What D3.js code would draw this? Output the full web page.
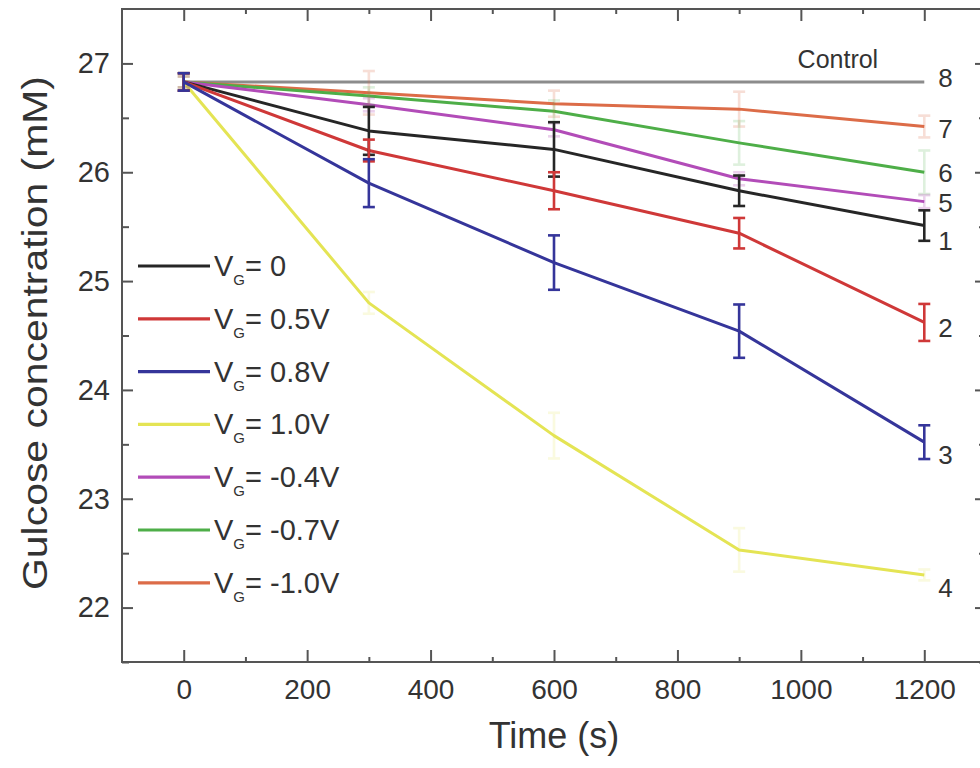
<!DOCTYPE html>
<html>
<head>
<meta charset="utf-8">
<script src="https://cdn.jsdelivr.net/npm/d3@7/dist/d3.min.js"></script>
<style>
  html, body { margin: 0; padding: 0; background: #fff; }
  svg { display: block; }
  text { font-family: "Liberation Sans", Arial, sans-serif; fill: #333; }
</style>
</head>
<body>
<svg id="chart" width="980" height="768"></svg>
<script>
// Sampling times (s)
const times = [0, 300, 600, 900, 1200];

// Glucose concentration (mM) for each gate voltage, with error bars
const vg0      = [26.83, 26.38, 26.21, 25.83, 25.51];
const vg0Err   = [0.08, 0.22, 0.25, 0.14, 0.14];
const vg05     = [26.83, 26.20, 25.83, 25.44, 24.62];
const vg05Err  = [0.08, 0.10, 0.17, 0.14, 0.17];
const vg08     = [26.83, 25.90, 25.17, 24.54, 23.52];
const vg08Err  = [0.08, 0.22, 0.25, 0.245, 0.155];
const vg10     = [26.83, 24.80, 23.58, 22.53, 22.30];
const vg10Err  = [0.05, 0.10, 0.21, 0.20, 0.05];
const vgm04    = [26.83, 26.62, 26.39, 25.94, 25.73];
const vgm04Err = [0.05, 0.06, 0.06, 0.06, 0.06];
const vgm07    = [26.83, 26.70, 26.56, 26.27, 26.00];
const vgm07Err = [0.05, 0.08, 0.10, 0.20, 0.20];
const vgm10    = [26.83, 26.73, 26.63, 26.58, 26.42];
const vgm10Err = [0.05, 0.20, 0.12, 0.16, 0.10];
const control  = [26.83, 26.83, 26.83, 26.83, 26.83];

// Legend texts (gate voltage values) and curve numbers
const legendValues = ["0", "0.5V", "0.8V", "1.0V", "-0.4V", "-0.7V", "-1.0V"];
const curveNumbers = ["1", "2", "3", "4", "5", "6", "7"];
const controlNumber = "8";
const controlLabel = "Control";

// Axis ticks
const xTicks = [0, 200, 400, 600, 800, 1000, 1200];
const yTicks = [22, 23, 24, 25, 26, 27];
const xLabel = "Time (s)";
const yLabel = "Gulcose concentration (mM)";

// Series table (order = legend order)
const seriesValues = [vg0, vg05, vg08, vg10, vgm04, vgm07, vgm10];
const seriesErrors = [vg0Err, vg05Err, vg08Err, vg10Err, vgm04Err, vgm07Err, vgm10Err];

// Styling
const colors = ["#262626", "#cf3838", "#35359a", "#e4e454", "#b24cb8", "#4eae48", "#dc6c48"];
const errOpacity = [1, 1, 1, 0.18, 0.25, 0.18, 0.22];
const controlColor = "#8c8c8c";
const labelDy = [15, 5, 12, 13, 1, 0, 2];   // nudges for the end-of-curve numbers
const drawOrder = [6, 5, 4, 3, 0, 1, 2];

const svg = d3.select("#chart");
const M = { left: 122, right: 986, top: 9, bottom: 662 };

const x = d3.scaleLinear().domain([-100, 1300]).range([M.left, M.right]);
const y = d3.scaleLinear().domain([21.5, 27.5]).range([M.bottom, M.top]);

const axisColor = "#555";

// Frame
svg.append("rect")
  .attr("x", M.left).attr("y", M.top)
  .attr("width", M.right - M.left).attr("height", M.bottom - M.top)
  .attr("fill", "none").attr("stroke", axisColor).attr("stroke-width", 2);

function styleAxis(g) {
  g.select(".domain").remove();
  g.selectAll(".tick line").attr("stroke", axisColor).attr("stroke-width", 2);
  g.selectAll(".tick text")
    .style("font-family", '"Liberation Sans", Arial, sans-serif')
    .attr("fill", "#333");
}

// Bottom axis (major + minor), ticks pointing inward
svg.append("g").attr("transform", `translate(0,${M.bottom})`)
  .call(d3.axisBottom(x).tickValues(xTicks).tickSize(-12).tickPadding(17).tickFormat(d3.format("d")))
  .call(styleAxis)
  .call(g => g.selectAll(".tick text").style("font-size", "28px"));
svg.append("g").attr("transform", `translate(0,${M.bottom})`)
  .call(d3.axisBottom(x).tickValues(d3.range(100, 1300, 200)).tickSize(-5).tickFormat(""))
  .call(styleAxis);

// Top axis mirrored ticks
svg.append("g").attr("transform", `translate(0,${M.top})`)
  .call(d3.axisTop(x).tickValues(xTicks).tickSize(-12).tickFormat(""))
  .call(styleAxis);
svg.append("g").attr("transform", `translate(0,${M.top})`)
  .call(d3.axisTop(x).tickValues(d3.range(100, 1300, 200)).tickSize(-5).tickFormat(""))
  .call(styleAxis);

// Left axis
svg.append("g").attr("transform", `translate(${M.left},0)`)
  .call(d3.axisLeft(y).tickValues(yTicks).tickSize(-11).tickPadding(12).tickFormat(d3.format("d")))
  .call(styleAxis)
  .call(g => g.selectAll(".tick text").style("font-size", "29px"));
svg.append("g").attr("transform", `translate(${M.left},0)`)
  .call(d3.axisLeft(y).tickValues(d3.range(21.5, 27.5, 1)).tickSize(-7).tickFormat(""))
  .call(styleAxis);

// Right axis mirrored ticks
svg.append("g").attr("transform", `translate(${M.right},0)`)
  .call(d3.axisRight(y).tickValues(yTicks).tickSize(-11).tickFormat(""))
  .call(styleAxis);
svg.append("g").attr("transform", `translate(${M.right},0)`)
  .call(d3.axisRight(y).tickValues(d3.range(21.5, 27.5, 1)).tickSize(-7).tickFormat(""))
  .call(styleAxis);

// Axis titles
svg.append("text")
  .attr("x", x(600)).attr("y", 748)
  .attr("text-anchor", "middle")
  .style("font-size", "36px")
  .text(xLabel);

svg.append("text")
  .attr("transform", "translate(47,333) rotate(-90)")
  .attr("text-anchor", "middle")
  .attr("textLength", 514).attr("lengthAdjust", "spacingAndGlyphs")
  .style("font-size", "35px")
  .text(yLabel);

const line = d3.line().x((d, i) => x(times[i])).y(d => y(d));
const plot = svg.append("g");

// Control line
plot.append("path")
  .datum(control)
  .attr("d", line)
  .attr("fill", "none").attr("stroke", controlColor).attr("stroke-width", 3);

// Curves
drawOrder.forEach(k => {
  plot.append("path")
    .datum(seriesValues[k])
    .attr("d", line)
    .attr("fill", "none")
    .attr("stroke", colors[k])
    .attr("stroke-width", 3)
    .attr("stroke-linejoin", "round");
});

// Error bars
const capW = 6;
drawOrder.forEach(k => {
  const g = plot.append("g")
    .attr("stroke", colors[k])
    .attr("stroke-width", 2.6)
    .attr("opacity", errOpacity[k]);
  seriesValues[k].forEach((v, i) => {
    const e = seriesErrors[k][i];
    const cx = x(times[i]);
    const y0 = y(v - e), y1 = y(v + e);
    g.append("line").attr("x1", cx).attr("x2", cx).attr("y1", y0).attr("y2", y1);
    g.append("line").attr("x1", cx - capW).attr("x2", cx + capW).attr("y1", y0).attr("y2", y0);
    g.append("line").attr("x1", cx - capW).attr("x2", cx + capW).attr("y1", y1).attr("y2", y1);
  });
});

// Curve numbers at the right end
const lastT = times[times.length - 1];
seriesValues.forEach((vals, k) => {
  svg.append("text")
    .attr("x", x(lastT) + 14)
    .attr("y", y(vals[vals.length - 1]) + labelDy[k])
    .attr("dy", "0.36em")
    .style("font-size", "26px")
    .text(curveNumbers[k]);
});
svg.append("text")
  .attr("x", x(lastT) + 14)
  .attr("y", y(control[control.length - 1]) - 4)
  .attr("dy", "0.36em")
  .style("font-size", "26px")
  .text(controlNumber);
svg.append("text")
  .attr("x", x(1060)).attr("y", y(control[control.length - 1]) - 14)
  .attr("text-anchor", "middle")
  .style("font-size", "25px")
  .text(controlLabel);

// Legend
const legend = svg.append("g");
legendValues.forEach((val, i) => {
  const ly = 266 + 52.8 * i;
  legend.append("line")
    .attr("x1", 138).attr("x2", 210).attr("y1", ly).attr("y2", ly)
    .attr("stroke", colors[i]).attr("stroke-width", 3.2);
  const t = legend.append("text")
    .attr("x", 214).attr("y", ly + 10)
    .style("font-size", "29px");
  t.append("tspan").text("V");
  t.append("tspan").attr("dy", 9).style("font-size", "15px").text("G");
  t.append("tspan").attr("dy", -9).text("= " + val);
});
</script>
</body>
</html>
